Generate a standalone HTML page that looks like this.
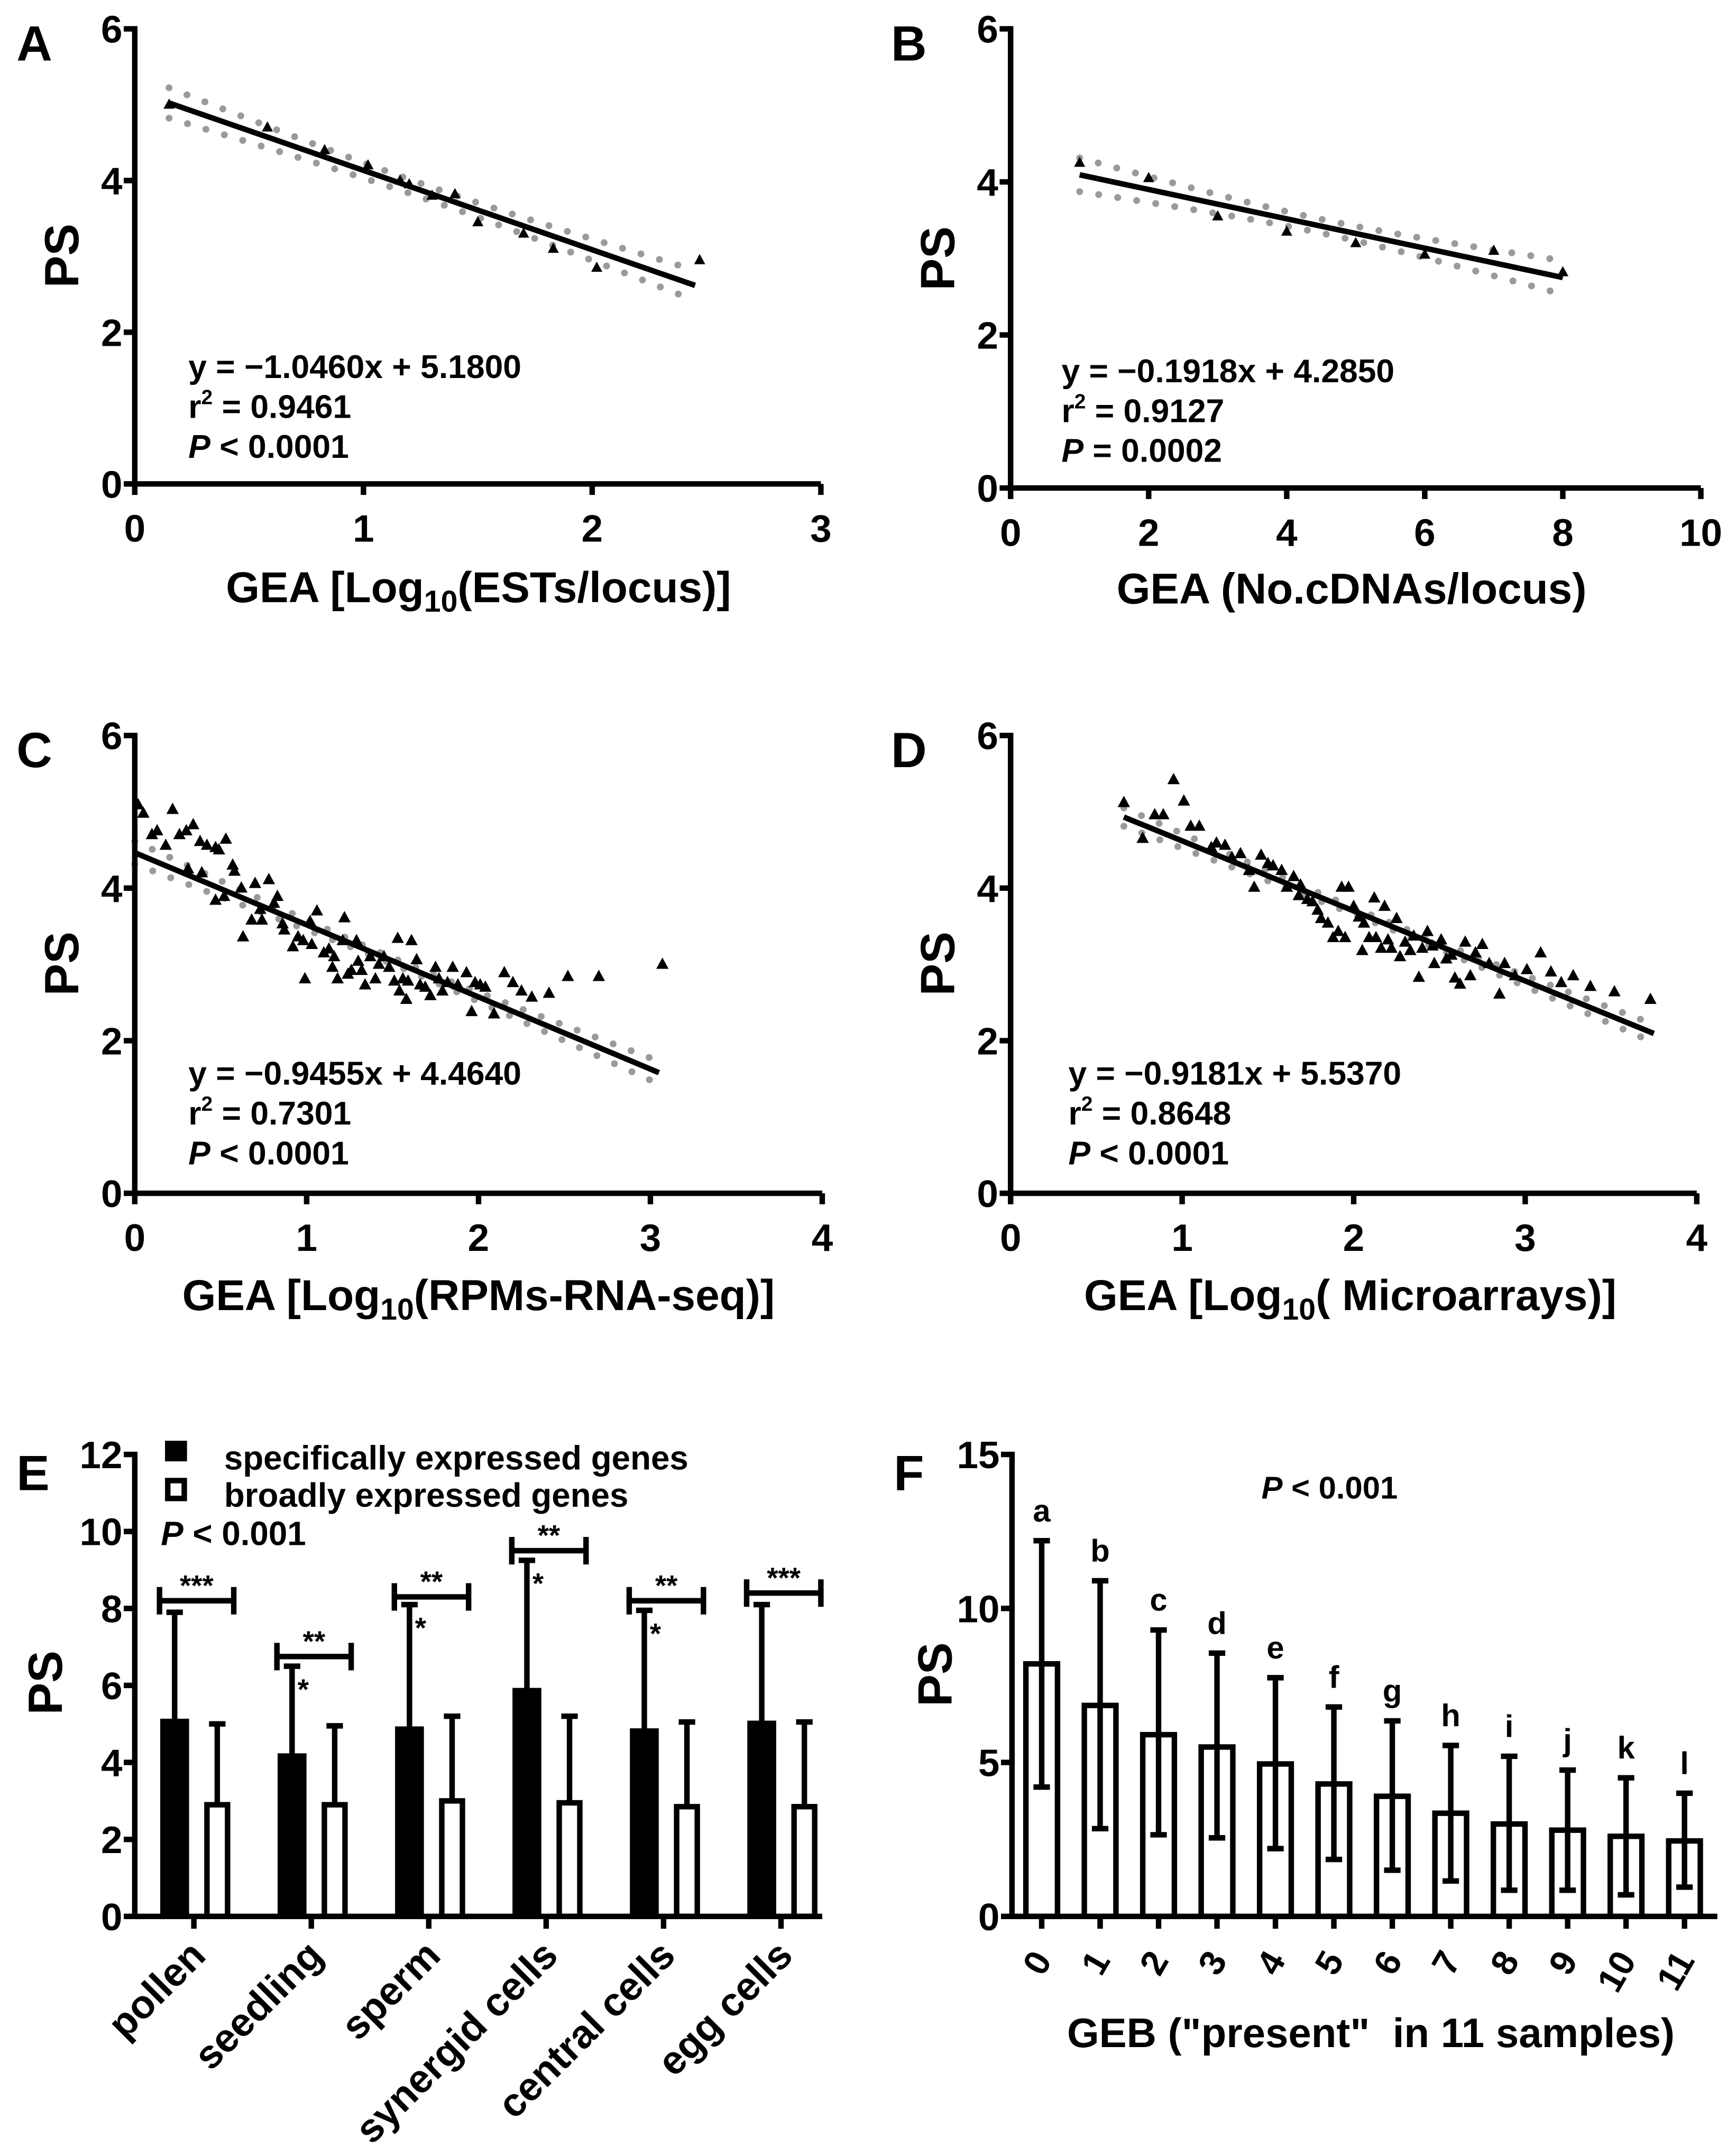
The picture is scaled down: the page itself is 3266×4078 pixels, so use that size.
<!DOCTYPE html>
<html><head><meta charset="utf-8"><title>PS vs GEA / GEB figure</title>
<style>
html,body{margin:0;padding:0;background:#fff;}
svg{display:block;}
text{font-family:"Liberation Sans Narrow","Liberation Sans",sans-serif;font-weight:bold;fill:#000;}
</style></head>
<body>
<svg id="fig" xmlns="http://www.w3.org/2000/svg" width="3266" height="4078" viewBox="0 0 1256 1568.3">
<rect width="1256" height="1568.3" fill="#fff"/>
</svg>
<script>
// ---------- DATA ----------
const aX=[0.15,0.58,0.83,1.02,1.16,1.2,1.3,1.4,1.5,1.7,1.83,2.02,2.47];
const aY=[5.0,4.7,4.4,4.2,4.0,3.95,3.8,3.82,3.45,3.3,3.1,2.85,2.95];
const aFit=[-1.046,5.18,0.15,2.45];
const bX=[1,2,3,4,5,6,7,8];
const bY=[4.25,4.05,3.55,3.35,3.2,3.05,3.1,2.82];
const bFit=[-0.1918,4.285,1,8];
const cX=[0.02,0.05,0.22,0.13,0.1,0.18,0.26,0.3,0.34,0.38,0.42,0.47,0.49,0.53,0.31,0.39,0.47,0.52,0.57,0.58,0.62,0.63,0.7,0.78,0.68,0.74,0.73,0.81,0.83,0.86,0.87,0.92,0.95,0.98,0.99,1.02,1.03,1.06,1.1,1.13,1.15,1.16,1.18,1.21,1.22,1.24,1.26,1.29,1.3,1.32,1.34,1.37,1.4,1.42,1.45,1.48,1.51,1.53,1.54,1.56,1.58,1.59,1.61,1.64,1.66,1.69,1.72,1.75,1.77,1.79,1.82,1.85,1.88,1.93,1.96,1.98,2.01,2.04,2.09,2.15,2.2,2.25,2.31,2.41,2.52,2.7,3.07];
const cY=[5.09,4.98,5.03,4.75,4.7,4.56,4.7,4.75,4.83,4.61,4.56,4.53,4.5,4.64,4.25,4.2,3.84,3.89,4.3,4.22,4.0,3.36,4.06,4.11,3.58,3.58,3.72,3.8,3.89,3.53,3.45,3.23,3.36,3.31,2.81,3.56,3.26,3.7,3.15,3.2,2.96,3.1,2.81,3.31,3.61,2.87,2.92,3.31,3.04,2.92,2.73,3.1,2.81,3.0,3.1,2.96,2.78,3.34,2.65,2.81,2.54,2.78,3.31,3.06,2.73,2.7,2.59,2.96,2.81,2.65,2.76,2.96,2.73,2.89,2.38,2.76,2.73,2.7,2.35,2.89,2.76,2.65,2.57,2.62,2.84,2.84,3.0];
const cFit=[-0.9455,4.464,0,3.05];
const dX=[0.66,0.77,0.84,0.89,0.95,1.01,1.05,1.1,1.17,1.2,1.25,1.29,1.34,1.39,1.42,1.46,1.5,1.53,1.58,1.61,1.65,1.68,1.69,1.73,1.76,1.79,1.81,1.85,1.88,1.91,1.93,1.95,1.97,2.0,2.03,2.06,2.05,2.09,2.12,2.13,2.16,2.18,2.2,2.22,2.25,2.27,2.3,2.33,2.35,2.38,2.4,2.43,2.46,2.47,2.51,2.54,2.57,2.59,2.62,2.65,2.68,2.71,2.75,2.79,2.85,2.88,2.94,3.01,3.09,3.15,3.21,3.28,3.38,3.52,3.73];
const dY=[5.12,4.65,4.96,4.96,5.42,5.14,4.81,4.81,4.53,4.59,4.56,4.4,4.45,4.23,4.01,4.43,4.32,4.29,4.23,4.01,4.15,3.9,4.04,3.85,3.82,3.71,3.6,3.54,3.35,3.43,4.01,3.35,4.01,3.76,3.62,3.54,3.18,3.35,3.87,3.35,3.21,3.76,3.32,3.21,3.6,3.1,3.29,3.18,3.37,2.83,3.21,3.43,3.24,3.01,3.32,3.07,3.12,2.82,2.74,3.29,2.85,3.15,3.26,3.01,2.61,3.01,2.85,2.93,3.15,2.9,2.76,2.85,2.71,2.64,2.54];
const dFit=[-0.9181,5.537,0.66,3.75];
const eCats=["pollen","seedling","sperm","synergid cells","central cells","egg cells"];
const eSpec=[5.1,4.2,4.9,5.9,4.85,5.05];
const eSpecErr=[7.9,6.5,8.1,9.25,7.95,8.1];
const eBroad=[2.9,2.9,3.0,2.95,2.85,2.85];
const eBroadErr=[5.0,4.95,5.2,5.2,5.05,5.05];
const eSigY=[8.2,6.75,8.3,9.5,8.2,8.4];
const eSigTxt=["***","**","**","**","**","***"];
const eSmallStar=[false,true,true,true,true,false];
const eTicks=[0,2,4,6,8,10,12];
const fCats=["0","1","2","3","4","5","6","7","8","9","10","11"];
const fMean=[8.2,6.85,5.9,5.5,4.95,4.3,3.9,3.35,3.0,2.8,2.6,2.45];
const fUp=[12.2,10.9,9.3,8.55,7.75,6.8,6.35,5.55,5.2,4.75,4.5,4.0];
const fLo=[4.2,2.85,2.65,2.55,2.2,1.85,1.5,1.15,0.85,0.85,0.7,0.95];
const fLetters=["a","b","c","d","e","f","g","h","i","j","k","l"];
const fTicks=[0,5,10,15];

// ---------- HELPERS ----------
const NS="http://www.w3.org/2000/svg";
const svg=document.getElementById('fig');
function mk(tag,attrs,parent,txt){const e=document.createElementNS(NS,tag);for(const k in attrs)e.setAttribute(k,attrs[k]);if(txt!==undefined)e.textContent=txt;(parent||svg).appendChild(e);return e;}
function grp(name,parent){const g=mk('g',{},parent);return g;}
function lin(x0,x1,p0,p1){return v=>p0+(v-x0)/(x1-x0)*(p1-p0);}

function axes(g,ox,oy,xEnd,yTop,sx,sy,xticks,yticks,xTickLabels){
  const yl=mk('line',{x1:ox,y1:oy+2,x2:ox,y2:yTop-2,stroke:'#000','stroke-width':4},g);
  
  const xl=mk('line',{x1:ox-2,y1:oy,x2:xEnd,y2:oy,stroke:'#000','stroke-width':4},g);
  
  yticks.forEach(v=>{const y=sy(v);mk('line',{x1:ox-8,y1:y,x2:ox,y2:y,stroke:'#000','stroke-width':4},g);
    const t=mk('text',{x:ox-9,y:y+10,'font-size':28,'text-anchor':'end'},g,String(v));
    });
  if(xticks) xticks.forEach(v=>{const x=sx(v);mk('line',{x1:x,y1:oy,x2:x,y2:oy+8,stroke:'#000','stroke-width':4},g);
    if(xTickLabels){const t=mk('text',{x:x,y:oy+42,'font-size':28,'text-anchor':'middle'},g,String(v));
    }});
}
function ytitle(g,x,y){const t=mk('text',{x:x,y:y,'font-size':35,'text-anchor':'middle',transform:`rotate(-90 ${x} ${y})`},g,'PS');
  }
function letter(g,x,y,s){const t=mk('text',{x:x,y:y,'font-size':36,'font-family':'Liberation Sans, sans-serif'},g,s);
  }
function xtitleLog(g,cx,y,pre,post){const t=mk('text',{x:cx,y:y,'font-size':31.5,'text-anchor':'middle'},g);
  
  mk('tspan',{},t,pre);mk('tspan',{'font-size':22,dy:7},t,'10');mk('tspan',{dy:-7},t,post);}
function eq(g,x,y,l1,l2,pSym,pval){
  const t1=mk('text',{x:x,y:y,'font-size':24},g,l1);
  const t2=mk('text',{x:x,y:y+29,'font-size':24},g);
  mk('tspan',{},t2,'r');mk('tspan',{'font-size':15,dy:-10},t2,'2');mk('tspan',{dy:10},t2,' = '+l2);
  const t3=mk('text',{x:x,y:y+58,'font-size':24},g);
  mk('tspan',{'font-style':'italic'},t3,'P');mk('tspan',{},t3,' '+pSym+' '+pval);}

function scatter(name,xs,ys,fit,ox,oy,xmax,xEndPx,yTopPx,xticks,band,tri){
  const g=grp(name);
  const sx=lin(0,xmax,ox,xEndPx), sy=lin(0,6,oy,yTopPx);
  const [m,b,x0,x1]=fit, xc=(x0+x1)/2;
  ['upper','lower'].forEach((side,si)=>{
    let d='';const n=40;
    for(let i=0;i<=n;i++){const x=x0+(x1-x0)*i/n;const h=Math.sqrt(band[1]*band[1]+(band[0]*band[0]-band[1]*band[1])*Math.pow((x-xc)/((x1-x0)/2),2));
      const y=m*x+b+(si===0?h:-h);d+=(i?'L':'M')+sx(x).toFixed(2)+' '+sy(y).toFixed(2);}
    const p=mk('path',{d:d,fill:'none',stroke:'#9a9a9a','stroke-width':5,'stroke-linecap':'round','stroke-dasharray':'0 14'},g);
    
  });
  xs.forEach((x,i)=>{const cx=sx(x),cy=sy(ys[i]);
    const p=mk('polygon',{points:`${cx},${cy-tri} ${cx-tri*0.9},${cy+tri*0.65} ${cx+tri*0.9},${cy+tri*0.65}`,fill:'#000'},g);
    });
  const l=mk('line',{x1:sx(x0),y1:sy(m*x0+b),x2:sx(x1),y2:sy(m*x1+b),stroke:'#000','stroke-width':4},g);
  
  axes(g,ox,oy,xEndPx,yTopPx,sx,sy,xticks,[0,2,4,6],true);
  return g;
}

let g=scatter('panel-a',aX,aY,aFit,98,352,3,597,21,[0,1,2,3],[0.2,0.09],4.5);
letter(g,12,44,'A');ytitle(g,57,186);xtitleLog(g,348,438,'GEA [Log','(ESTs/locus)]');
eq(g,137,275,'y = \u22121.0460x + 5.1800','0.9461','<','0.0001');
g=scatter('panel-b',bX,bY,bFit,735,355,10,1237,21,[0,2,4,6,8,10],[0.22,0.09],4.5);
letter(g,648,44,'B');ytitle(g,694,188);
{const t=mk('text',{x:983,y:439,'font-size':31.5,'text-anchor':'middle'},g,'GEA (No.cDNAs/locus)');}
eq(g,772,278,'y = \u22120.1918x + 4.2850','0.9127','=','0.0002');
g=scatter('panel-c',cX,cY,cFit,98,868,4,598,535,[0,1,2,3,4],[0.15,0.04],5);
letter(g,12,558,'C');ytitle(g,57,701);xtitleLog(g,348,953,'GEA [Log','(RPMs-RNA-seq)]');
eq(g,137,789,'y = \u22120.9455x + 4.4640','0.7301','<','0.0001');
g=scatter('panel-d',dX,dY,dFit,735,868,4,1234,535,[0,1,2,3,4],[0.12,0.04],5);
letter(g,648,558,'D');ytitle(g,694,701);xtitleLog(g,982,953,'GEA [Log','( Microarrays)]');
eq(g,777,789,'y = \u22120.9181x + 5.5370','0.8648','<','0.0001');

{
const g=grp('panel-e');
const ox=98,oy=1394,sy=lin(0,12,oy,1058);
const tick0=141,step=85.4;
const sx=i=>tick0+i*step;
eCats.forEach((c,i)=>{
  const cx=sx(i),bx=cx-14,wx=cx+17,w=19;
  const e1=mk('line',{x1:bx,y1:sy(eSpec[i]),x2:bx,y2:sy(eSpecErr[i]),stroke:'#000','stroke-width':4},g);
  
  mk('line',{x1:bx-6,y1:sy(eSpecErr[i]),x2:bx+6,y2:sy(eSpecErr[i]),stroke:'#000','stroke-width':4},g);
  const r1=mk('rect',{x:bx-w/2,y:sy(eSpec[i]),width:w,height:oy-sy(eSpec[i]),fill:'#000',stroke:'#000','stroke-width':2},g);
  
  const e2=mk('line',{x1:wx,y1:sy(eBroad[i]),x2:wx,y2:sy(eBroadErr[i]),stroke:'#000','stroke-width':4},g);
  
  mk('line',{x1:wx-6,y1:sy(eBroadErr[i]),x2:wx+6,y2:sy(eBroadErr[i]),stroke:'#000','stroke-width':4},g);
  const r2=mk('rect',{x:wx-w/2+2,y:sy(eBroad[i]),width:w-4,height:oy-sy(eBroad[i]),fill:'#fff',stroke:'#000','stroke-width':4},g);
  
  const yb=sy(eSigY[i]);
  const br=mk('path',{d:`M${cx-25} ${yb-10}V${yb+10}M${cx-25} ${yb}H${cx+29}M${cx+29} ${yb-10}V${yb+10}`,fill:'none',stroke:'#000','stroke-width':4},g);
  
  const st=mk('text',{x:cx+2,y:yb-4,'font-size':21,'text-anchor':'middle','font-weight':'normal'},g,eSigTxt[i]);
  
  if(eSmallStar[i]){const s=mk('text',{x:bx+4,y:sy(eSpecErr[i])+24,'font-size':21,'font-weight':'normal'},g,'*');
    }
  const ly=oy+30,lx=cx+10;
  const t=mk('text',{x:lx,y:ly,'font-size':29,'text-anchor':'end',transform:`rotate(-45 ${lx} ${ly})`},g,c);
  
});
axes(g,ox,oy,598,1058,null,sy,null,eTicks,false);
eCats.forEach((c,i)=>mk('line',{x1:sx(i),y1:oy,x2:sx(i),y2:oy+9,stroke:'#000','stroke-width':4},g));
letter(g,12,1084,'E');ytitle(g,45,1224);
const lg=grp('legend',g);
mk('rect',{x:120,y:1048,width:16,height:15,fill:'#000'},lg);
const l1=mk('text',{x:163,y:1069,'font-size':24.5},lg,'specifically expressed genes');
mk('rect',{x:122,y:1077,width:12,height:13,fill:'#fff',stroke:'#000','stroke-width':4},lg);
const l2=mk('text',{x:163,y:1096,'font-size':24.5},lg,'broadly expressed genes');
const pv=mk('text',{x:117,y:1124,'font-size':24.5},g);
mk('tspan',{'font-style':'italic'},pv,'P');mk('tspan',{},pv,' < 0.001');
}

{
const g=grp('panel-f');
const ox=736,oy=1394,sy=lin(0,15,oy,1058);
const sx=i=>757.6+i*42.5;
fCats.forEach((c,i)=>{
  const cx=sx(i),w=23;
  const r=mk('rect',{x:cx-w/2,y:sy(fMean[i]),width:w,height:oy-sy(fMean[i]),fill:'#fff',stroke:'#000','stroke-width':4},g);
  
  const e=mk('path',{d:`M${cx} ${sy(fLo[i])}V${sy(fUp[i])}M${cx-6} ${sy(fUp[i])}H${cx+6}M${cx-6} ${sy(fLo[i])}H${cx+6}`,fill:'none',stroke:'#000','stroke-width':4},g);
  
  const lt=mk('text',{x:cx,y:sy(fUp[i])-14,'font-size':23,'text-anchor':'middle'},g,fLetters[i]);
  
  mk('line',{x1:cx,y1:oy,x2:cx,y2:oy+9,stroke:'#000','stroke-width':4},g);
  const lx=cx+8,ly=oy+32;
  const t=mk('text',{x:lx,y:ly,'font-size':26,'text-anchor':'end',transform:`rotate(-60 ${lx} ${ly})`},g,c);
  
});
axes(g,ox,oy,1249,1058,null,sy,null,fTicks,false);
letter(g,650,1084,'F');ytitle(g,692,1218);
const pv=mk('text',{x:967,y:1090,'font-size':23,'text-anchor':'middle'},g);
mk('tspan',{'font-style':'italic'},pv,'P');mk('tspan',{},pv,' < 0.001');
const xt=mk('text',{x:997,y:1489,'font-size':30,'text-anchor':'middle'},g,'GEB ("present"\u00a0 in 11 samples)');

}
</script>
</body></html>
